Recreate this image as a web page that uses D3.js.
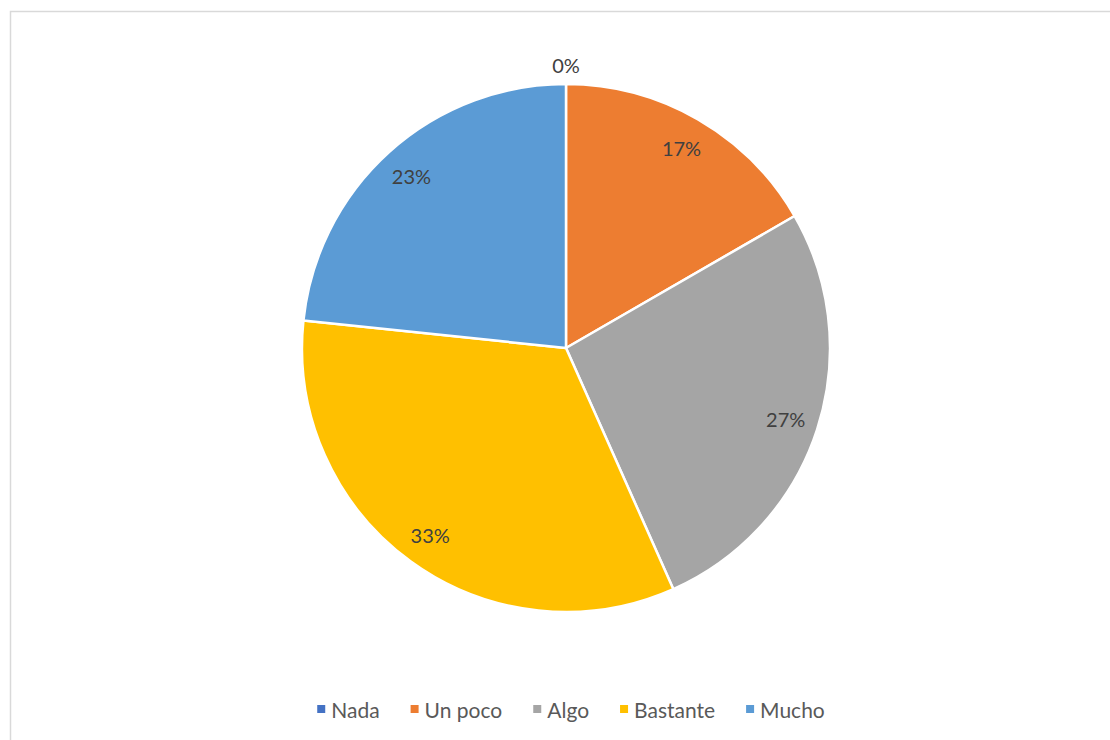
<!DOCTYPE html>
<html>
<head>
<meta charset="utf-8">
<script src="https://cdn.jsdelivr.net/npm/d3@7"></script>
<style>
  html, body { margin: 0; padding: 0; background: #fff; }
  svg { display: block; }
  text { font-family: Lato, "Liberation Sans", sans-serif; }
</style>
</head>
<body>
<svg id="chart" width="1110" height="740"></svg>
<script>
// Response counts per answer
const categories = ["Nada", "Un poco", "Algo", "Bastante", "Mucho"];
const counts = [0, 5, 8, 10, 7];
const colors = ["#4472C4", "#ED7D31", "#A5A5A5", "#FFC000", "#5B9BD5"];

const svg = d3.select("#chart");
const W = 1110, H = 740;

// chart frame (top and left edges visible)
svg.append("rect")
  .attr("x", 10.5).attr("y", 11.5)
  .attr("width", W + 10).attr("height", H + 10)
  .attr("fill", "#fff")
  .attr("stroke", "#d9d9d9").attr("stroke-width", 1.5);

const cx = 566, cy = 348, R = 264;
const total = d3.sum(counts);
const data = categories.map((c, i) => ({ cat: c, value: counts[i], color: colors[i] }));

const pie = d3.pie().value(d => d.value).sort(null);
const arcs = pie(data);
const arc = d3.arc().innerRadius(0).outerRadius(R);

const g = svg.append("g").attr("transform", `translate(${cx},${cy})`);

g.selectAll("path.slice")
  .data(arcs.filter(a => a.data.value > 0))
  .join("path")
  .attr("class", "slice")
  .attr("d", arc)
  .attr("fill", d => d.data.color)
  .attr("stroke", "#fff")
  .attr("stroke-width", 2.5)
  .attr("stroke-linejoin", "round");

// percentage labels: inside near the edge, zero slices just outside
const pct = v => Math.round(v / total * 100) + "%";
g.selectAll("text.lbl")
  .data(arcs)
  .join("text")
  .attr("class", "lbl")
  .each(function (d) {
    const mid = (d.startAngle + d.endAngle) / 2;
    const r = d.data.value > 0 ? 231 : 283;
    d3.select(this)
      .attr("x", r * Math.sin(mid))
      .attr("y", -r * Math.cos(mid));
  })
  .attr("text-anchor", "middle")
  .attr("dominant-baseline", "central")
  .attr("font-size", 20)
  .attr("fill", "#404040")
  .text(d => pct(d.data.value));

// legend, centred below the pie
const legend = svg.append("g");
const items = legend.selectAll("g.item").data(data).join("g").attr("class", "item");
items.append("rect")
  .attr("width", 8).attr("height", 8)
  .attr("y", -4)
  .attr("fill", d => d.color);
items.append("text")
  .attr("x", 14)
  .attr("dominant-baseline", "central")
  .attr("font-size", 21)
  .attr("fill", "#595959")
  .text(d => d.cat);

let x = 0;
const gap = 31;
items.each(function () {
  const w = d3.select(this).select("text").node().getComputedTextLength();
  d3.select(this).attr("transform", `translate(${x},0)`);
  x += 14 + w + gap;
});
const legendW = x - gap;
legend.attr("transform", `translate(${571 - legendW / 2},709)`);
</script>
</body>
</html>
